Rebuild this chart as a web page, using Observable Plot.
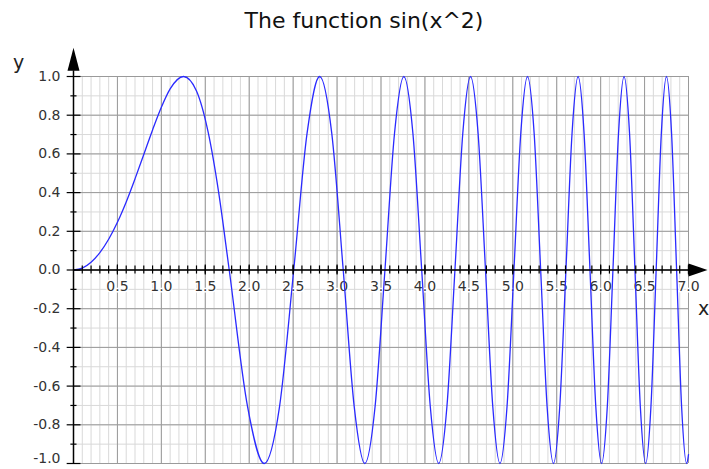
<!DOCTYPE html>
<html>
<head>
<meta charset="utf-8">
<script src="https://cdn.jsdelivr.net/npm/d3@7"></script>
<script src="https://cdn.jsdelivr.net/npm/@observablehq/plot@0.6"></script>
<style>
  html, body { margin: 0; padding: 0; background: #fff; }
  svg { display: block; }
</style>
</head>
<body>
<div id="chart"></div>
<script>
// Curve values (peaks, troughs, zero crossings and mid points)
const xs = [0, 0.10, 0.20, 0.30, 0.40, 0.50, 0.60, 0.70, 0.80, 0.90, 1.00, 1.10, 1.2533, 1.40, 1.5350, 1.65, 1.7725, 1.9817, 2.1708, 2.3447,
  2.5066, 2.6587, 2.8025, 2.9393, 3.0700, 3.1953, 3.3160, 3.4324, 3.5449, 3.6540, 3.7599,
  3.8630, 3.9633, 4.0612, 4.1568, 4.2502, 4.3416, 4.4311, 4.5189, 4.6050, 4.6895, 4.7725,
  4.8541, 4.9343, 5.0133, 5.0910, 5.1675, 5.2430, 5.3174, 5.3907, 5.4631, 5.5345, 5.6050,
  5.6746, 5.7434, 5.8114, 5.8786, 5.9450, 6.0107, 6.0757, 6.1400, 6.2036, 6.2666, 6.3289,
  6.3907, 6.4518, 6.5124, 6.5724, 6.6319, 6.6909, 6.7493, 6.8072, 6.8647, 6.9216, 6.9782, 7.00];
const ys = [0, 0.010, 0.040, 0.090, 0.159, 0.247, 0.352, 0.471, 0.597, 0.724, 0.841, 0.936, 1, 0.925, 0.707, 0.408, 0, -0.707, -1, -0.707,
  0, 0.707, 1, 0.707, 0, -0.707, -1, -0.707, 0, 0.707, 1,
  0.707, 0, -0.707, -1, -0.707, 0, 0.707, 1, 0.707, 0, -0.707,
  -1, -0.707, 0, 0.707, 1, 0.707, 0, -0.707, -1, -0.707, 0,
  0.707, 1, 0.707, 0, -0.707, -1, -0.707, 0, 0.707, 1, 0.707,
  0, -0.707, -1, -0.707, 0, 0.707, 1, 0.707, 0, -0.707, -1, -0.954];

const xTickValues = [0.5, 1.0, 1.5, 2.0, 2.5, 3.0, 3.5, 4.0, 4.5, 5.0, 5.5, 6.0, 6.5, 7.0];
const xTickLabels = ["0.5", "1.0", "1.5", "2.0", "2.5", "3.0", "3.5", "4.0", "4.5", "5.0", "5.5", "6.0", "6.5", "7.0"];
const yTickValues = [1.0, 0.8, 0.6, 0.4, 0.2, 0.0, -0.2, -0.4, -0.6, -0.8, -1.0];
const yTickLabels = ["1.0", "0.8", "0.6", "0.4", "0.2", "0.0", "-0.2", "-0.4", "-0.6", "-0.8", "-1.0"];

const title = "The function sin(x^2)";
const xLabel = "x";
const yLabel = "y";

const curve = xs.map((x, i) => ({x, y: ys[i]}));
const yLabelRows = yTickValues.map((v, i) => ({v, label: yTickLabels[i]}));
const xMinor = d3.range(1, 71).map(i => i / 10);
const xMajor = d3.range(0, 15).map(i => i / 2);
const yMinor = d3.range(-10, 11).map(i => i / 10);
const yMajor = d3.range(-5, 6).map(i => i / 5);
const yMinorTicks = d3.range(-9, 10, 2).map(i => i / 10);

const headY = {draw(ctx) { ctx.moveTo(0, -23); ctx.lineTo(6, 0); ctx.lineTo(-6, 0); ctx.closePath(); }};
const headX = {draw(ctx) { ctx.moveTo(0, -19); ctx.lineTo(6.5, 0); ctx.lineTo(-6.5, 0); ctx.closePath(); }};

const font = "DejaVu Sans, Verdana, sans-serif";

const chart = Plot.plot({
  width: 709,
  height: 469,
  marginLeft: 73,
  marginRight: 21,
  marginTop: 76,
  marginBottom: 6,
  x: {domain: [0, 7], axis: null},
  y: {domain: [-1, 1], axis: null},
  style: {fontFamily: font, background: "white"},
  marks: [
    // minor grid
    Plot.ruleX(xMinor, {x: d => d, y1: -1, y2: 1, stroke: "#d9d9d9", strokeWidth: 1}),
    Plot.ruleY(yMinor, {y: d => d, x1: 0, x2: 7, stroke: "#d9d9d9", strokeWidth: 1}),
    // major grid
    Plot.ruleX(xMajor, {x: d => d, y1: -1, y2: 1, stroke: "#9a9a9a", strokeWidth: 1}),
    Plot.ruleY(yMajor, {y: d => d, x1: 0, x2: 7, stroke: "#9a9a9a", strokeWidth: 1}),
    // x tick labels with white halo
    Plot.text(xTickValues, {x: d => d, y: 0, text: (d, i) => xTickLabels[i], dy: 17, fontSize: 14,
      fill: "#333", stroke: "white", strokeWidth: 3}),
    // curve
    Plot.line(curve, {x: "x", y: "y", curve: "monotone-x", stroke: "#2a2aff", strokeWidth: 1.3}),
    // axes
    Plot.ruleY([0], {y: d => d, x1: 0, x2: 7, stroke: "black", strokeWidth: 1.5}),
    Plot.ruleX([0], {x: d => d, y1: -1, y2: 1.03, stroke: "black", strokeWidth: 1.5}),
    Plot.dot([0], {x: d => d, y: 1.03, symbol: headY, r: 5, fill: "black", stroke: null}),
    Plot.dot([0], {x: 7, y: d => d, symbol: headX, r: 5, fill: "black", stroke: null, rotate: 90}),
    // x ticks
    Plot.ruleX(xMinor, {x: d => d, y1: -0.021, y2: 0.021, stroke: "black", strokeWidth: 1.2}),
    Plot.ruleX(xMajor.filter(d => d > 0), {x: d => d, y1: -0.026, y2: 0.026, stroke: "black", strokeWidth: 1.2}),
    // y ticks
    Plot.ruleY(yMajor, {y: d => d, x1: -0.072, x2: 0.085, stroke: "black", strokeWidth: 1.2}),
    Plot.ruleY(yMinorTicks, {y: d => d, x1: -0.03, x2: 0.04, stroke: "black", strokeWidth: 1.2}),
    // y tick labels (the bottom one lifted slightly so it stays inside the picture)
    Plot.text(yLabelRows.filter(d => d.v > -1), {x: 0, y: "v", text: "label", dx: -13, textAnchor: "end",
      fontSize: 14, fill: "#333"}),
    Plot.text(yLabelRows.filter(d => d.v === -1), {x: 0, y: "v", text: "label", dx: -13, dy: -1, lineAnchor: "bottom", textAnchor: "end",
      fontSize: 14, fill: "#333"}),
    // axis labels
    Plot.text([yLabel], {frameAnchor: "top-left", text: d => d, dx: -55, dy: -14, textAnchor: "middle", lineAnchor: "middle", fontSize: 19, fill: "#222"}),
    Plot.text([0], {y: d => d, frameAnchor: "right", text: () => xLabel, dx: 15, dy: 39, textAnchor: "middle", lineAnchor: "middle", fontSize: 19, fill: "#222"}),
    // title
    Plot.text([title], {frameAnchor: "top", text: d => d, dx: -17, dy: -56, lineAnchor: "middle", fontSize: 22, fill: "#111"})
  ]
});
document.getElementById("chart").appendChild(chart);
</script>
</body>
</html>
